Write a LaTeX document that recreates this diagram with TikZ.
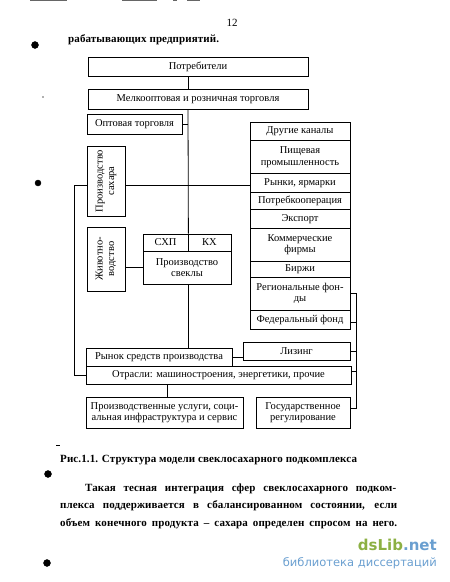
\documentclass[tikz,border=0pt]{standalone}
\usepackage{fontspec}
\setmainfont{Liberation Serif}
\newfontfamily\wmfont{DejaVu Sans}
\usetikzlibrary{calc}

\definecolor{wmgreen}{HTML}{8CB043}
\definecolor{wmblue}{HTML}{6A9FD0}

\tikzset{
    box/.style={draw, line width=0.8pt, inner sep=1pt, align=center,
        font=\fontsize{10.5}{11.5}\selectfont},
    conn/.style={line width=0.8pt},
    bodytxt/.style={inner sep=0pt, anchor=base west,
        font=\fontsize{11}{13}\selectfont\bfseries\addfontfeatures{LetterSpace=1}},
}

\begin{document}
\begin{tikzpicture}[x=1pt, y=-1pt]
            \useasboundingbox (0,0) rectangle (450,582);

            % scan remnants of the previous page
            \draw[black!60, line width=0.6pt] (30,0.5) -- (67,0.5);
            \draw[black!60, line width=0.6pt] (122,0.5) -- (157,0.5);
            \draw[black!60, line width=0.6pt] (173,0.5) -- (177,0.5);
            \draw[black!60, line width=0.6pt] (187,0.5) -- (200,0.5);

            \node[inner sep=0pt, font=\fontsize{11}{13}\selectfont] (page) at (232,23) {12};
            \node[bodytxt] (top) at (68,42) {рабатывающих предприятий.};

            % left column positions
            \def\xl{74};
            \def\xc{188};
            \def\xd{167};
            \def\xb{356};
            \coordinate (c) at (\xc,0);
            \coordinate (d) at (\xd,0);
            \coordinate (b) at (\xb,0);
            \coordinate (l) at (\xl,185);

            \node[box, minimum width=220, minimum height=19] (potr) at (198,66.5) {Потребители};
            \node[box, minimum width=220, minimum height=20] (melk) at (198,99) {Мелкооптовая и розничная торговля};
            \node[box, minimum width=95, minimum height=20] (opt) at (134.5,124) {Оптовая торговля};

            \node[box, minimum width=38, minimum height=70] (sah) at (106,181) {};
            \node[box, draw=none, rotate=90] (sahtxt) at (sah) {Производство\\сахара};
            \node[box, minimum width=38, minimum height=64] (zhiv) at (106,259) {};
            \node[box, draw=none, rotate=90] (zhivtxt) at (zhiv) {Животно-\\водство};

            \node[box, minimum width=45, minimum height=17] (shp) at (165.5,242.5) {СХП};
            \node[box, minimum width=43, minimum height=17] (kh) at (209.5,242.5) {КХ};
            \node[box, minimum width=88, minimum height=33] (svek) at (187,267.5) {Производство\\свеклы};

            % right column
            \node[box, minimum width=100, minimum height=18.5] (drug) at (300,131.25) {Другие каналы};
            \node[box, minimum width=100, minimum height=33] (pish) at (300,157) {Пищевая\\промышленность};
            \node[box, minimum width=100, minimum height=18.5] (rynki) at (300,182.75) {Рынки, ярмарки};
            \node[box, minimum width=100, minimum height=17.5] (potrk) at (300,200.75) {Потребкооперация};
            \node[box, minimum width=100, minimum height=18.5] (eksp) at (300,218.75) {Экспорт};
            \node[box, minimum width=100, minimum height=33] (komm) at (300,244.5) {Коммерческие\\фирмы};
            \node[box, minimum width=100, minimum height=16] (birzh) at (300,269) {Биржи};
            \node[box, minimum width=100, minimum height=33] (reg) at (300,293.5) {Региональные фон-\\ды};
            \node[box, minimum width=100, minimum height=19] (fed) at (300,319.5) {Федеральный фонд};

            \node[box, minimum width=146, minimum height=18] (rynok) at (159,357) {Рынок средств производства};
            \node[box, minimum width=107, minimum height=18] (liz) at (296.5,351) {Лизинг};
            \node[box, minimum width=265, minimum height=18] (otr) at (218.5,375) {Отрасли: машиностроения, энергетики, прочие};
            \node[box, minimum width=157, minimum height=31] (uslug) at (164.5,412.5) {Производственные услуги, соци-\\альная инфраструктура и сервис};
            \node[box, minimum width=94, minimum height=31] (gos) at (303,412.5) {Государственное\\регулирование};

            % central trunk
            \draw[conn] (potr.south -| c) -- (melk.north -| c);
            \draw[conn] (melk.south -| c) -- (shp.north east);
            \draw[conn] (opt.east) -- (opt.east -| c);
            \draw[conn] (svek.south -| c) -- (rynok.north -| c);

            % left loop
            \draw[conn] (l) -- (sah.west |- l);
            \draw[conn] (sah.east |- l) -- (rynki.west |- l);
            \draw[conn] (l) |- (otr.west);
            \draw[conn] (zhiv.east |- svek.west) -- (svek.west);
            \draw[conn] (rynok.east) -- (rynok.east -| liz.west);
            \draw[conn] (otr.south -| d) -- (uslug.north -| d);

            % right bracket
            \draw[conn] (reg.east) -- (reg.east -| b) -- ([yshift=4]gos.east -| b) -- ([yshift=4]gos.east);
            \draw[conn] ([yshift=-3]fed.east) -- ([yshift=-3]fed.east -| b);
            \draw[conn] (liz.east) -- (liz.east -| b);
            \draw[conn] ([yshift=4]otr.east) -- ([yshift=4]otr.east -| b);

            % caption and text
            \node[bodytxt] (cap) at (60,462) {Рис.1.1. Структура модели свеклосахарного подкомплекса};
            \node[bodytxt] (p1) at (85,491) {\makebox[311pt][s]{Такая тесная интеграция сфер свеклосахарного подком-}};
            \node[bodytxt] (p2) at (60,508.5) {\makebox[337pt][s]{плекса поддерживается в сбалансированном состоянии, если}};
            \node[bodytxt] (p3) at (60,526) {\makebox[337pt][s]{объем конечного продукта -- сахара определен спросом на него.}};

            % margin marks
            \filldraw[black] (35,45) circle (3.5pt);
            \filldraw[black] (38,183) circle (3pt);
            \filldraw[black] (48,474) circle (3.5pt);
            \filldraw[black] (47,563) circle (3.5pt);
            \draw[black, line width=1pt] (56,445) -- (60,445);
            \filldraw[black!50] (43,97) circle (0.6pt);

            % watermark
            \node[inner sep=0pt, anchor=base east, font=\wmfont\bfseries\fontsize{15}{16}\selectfont] (wm) at (437,550)
                {\textcolor{wmgreen}{dsLib}\textcolor{wmblue}{.net}};
            \node[inner sep=0pt, anchor=base east, font=\wmfont\fontsize{11.5}{12}\selectfont, text=wmblue] (wmsub) at (437,566)
                {библиотека диссертаций};
\end{tikzpicture}
\end{document}
